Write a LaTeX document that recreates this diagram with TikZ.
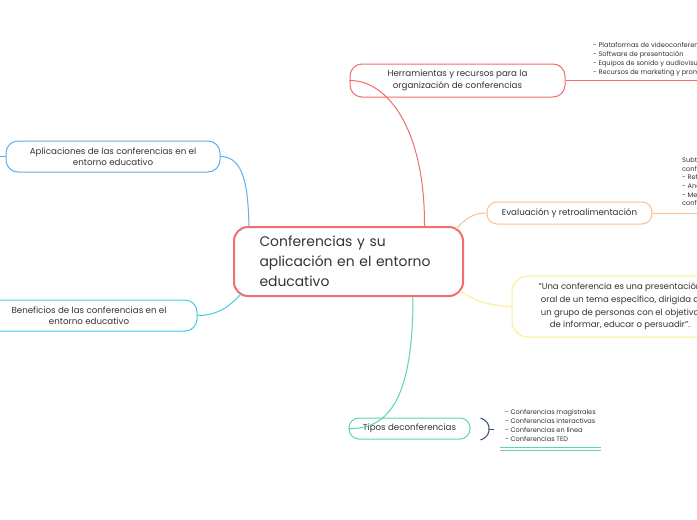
\documentclass[tikz,border=0pt]{standalone}
\usepackage{fontspec}
\setmainfont{Poppins}
\usetikzlibrary{calc}
\definecolor{cred}{HTML}{F26D6D}
\definecolor{corange}{HTML}{FDBF8E}
\definecolor{cyellow}{HTML}{FCEF8C}
\definecolor{cteal}{HTML}{5ED6A6}
\definecolor{cblue}{HTML}{62AEEA}
\definecolor{ccyan}{HTML}{3FCFDD}
\definecolor{cnavy}{HTML}{2C4A6E}
\definecolor{ctext}{HTML}{333333}
\tikzset{
  pill/.style={draw, line width=1pt, rounded corners=12pt, fill=white, text=ctext, align=center, inner sep=0pt, font=\fontsize{8.7}{11.5}\selectfont},
  subtext/.style={text=ctext, align=left, inner sep=0pt, anchor=north west, font=\fontsize{6.6}{9}\selectfont},
  conn/.style={line width=1pt},
}
\begin{document}
\begin{tikzpicture}[x=1pt,y=-1pt]
\path[use as bounding box] (0,0) rectangle (697,520);
\clip (0,0) rectangle (697,520);
\fill[white] (0,0) rectangle (697,520);

% central
\node[draw=cred, line width=2pt, rounded corners=14pt, fill=white, text=ctext, align=left,
  minimum width=229pt, minimum height=69pt, text width=178pt, inner xsep=25.5pt,
  font=\fontsize{13.9}{20}\selectfont] (c) at (348.5,261.5)
  {Conferencias y su\\aplicación en el entorno\\educativo};

% subnodes
\node[pill, draw=cred, minimum width=215pt, minimum height=33pt] (h) at (457.5,80.5)
  {Herramientas y recursos para la\\organización de conferencias};
\node[pill, draw=corange, minimum width=165pt, minimum height=22pt, rounded corners=10pt] (e) at (569.5,213)
  {Evaluación y retroalimentación};
\node[pill, draw=cyellow, minimum width=216pt, minimum height=61pt, rounded corners=16pt, font=\fontsize{8.5}{12.6}\selectfont] (q) at (620,306.5)
  {"Una conferencia es una presentación\\oral de un tema específico, dirigida a\\un grupo de personas con el objetivo\\de informar, educar o persuadir".};
\node[pill, draw=cteal, minimum width=121pt, minimum height=21pt, rounded corners=10pt] (t) at (409.5,428.5)
  {Tipos deconferencias};
\node[pill, draw=cblue, minimum width=214pt, minimum height=31pt] (a) at (113,156.5)
  {Aplicaciones de las conferencias en el\\entorno educativo};
\node[pill, draw=ccyan, minimum width=216pt, minimum height=31pt] (b) at (89,315.5)
  {Beneficios de las conferencias en el\\entorno educativo};

% connectors
\draw[conn, cred] ($(c.north)+(76,0)$) .. controls (425,130) and (388,80) .. (h.west);
\draw[conn, corange] ($(c.north east)+(-8,3)$) .. controls (466,218) and (474,213) .. (e.west);
\draw[conn, cyellow] ($(c.south east)+(-4,-6)$) .. controls (476,302) and (492,306) .. (q.west);
\draw[conn, cteal] ($(c.south)+(64.5,0)$) .. controls (413,392) and (392,430) .. (t.west);
\draw[conn, cblue] ($(c.north west)+(16,0)$) .. controls (248,190) and (245,156.5) .. (a.east);
\draw[conn, ccyan] ($(c.south west)+(8,-3)$) .. controls (230,306) and (218,315.5) .. (b.east);
\coordinate (aleft) at (0,156.5);
\draw[conn, cblue] (aleft) -- (a.west);

% subtopic lines
\coordinate (hend) at (697,80.5);
\draw[conn, cred] (h.east) -- (hend);
\coordinate (eend) at (697,213);
\draw[conn, corange] (e.east) -- (eend);

% subtopic texts
\node[subtext] (ht) at (593,42)
  {- Plataformas de videoconferencias\\- Software de presentación\\- Equipos de sonido y audiovisuales\\- Recursos de marketing y promoción};
\node[subtext, font=\fontsize{6.6}{8.7}\selectfont] (et) at (682,157)
  {Subtemas de evaluación de\\conferencias:\\- Retroalimentación de los asistentes\\- Análisis de resultados\\- Mejora continua de las\\conferencias};

% brace for tipos
\coordinate (br1) at (480.5,418);
\coordinate (br2) at (480.5,440);
\coordinate (brm) at (489,429);
\coordinate (brt) at (494,429);
\draw[cnavy, line width=1pt] (br1) .. controls (488,421) and (489,425) .. (brm) .. controls (489,433) and (488,437) .. (br2);
\draw[cnavy, line width=1pt] (brm) -- (brt);
\node[subtext] (tt) at (505,409)
  {- Conferencias magistrales\\- Conferencias interactivas\\- Conferencias en línea\\- Conferencias TED};
\coordinate (u1) at (500,447.5);
\coordinate (u2) at (601,447.5);
\coordinate (u3) at (500,450.7);
\coordinate (u4) at (601,450.7);
\draw[cteal, line width=0.8pt] (u1) -- (u2);
\draw[cteal, line width=0.8pt] (u3) -- (u4);
\end{tikzpicture}
\end{document}
